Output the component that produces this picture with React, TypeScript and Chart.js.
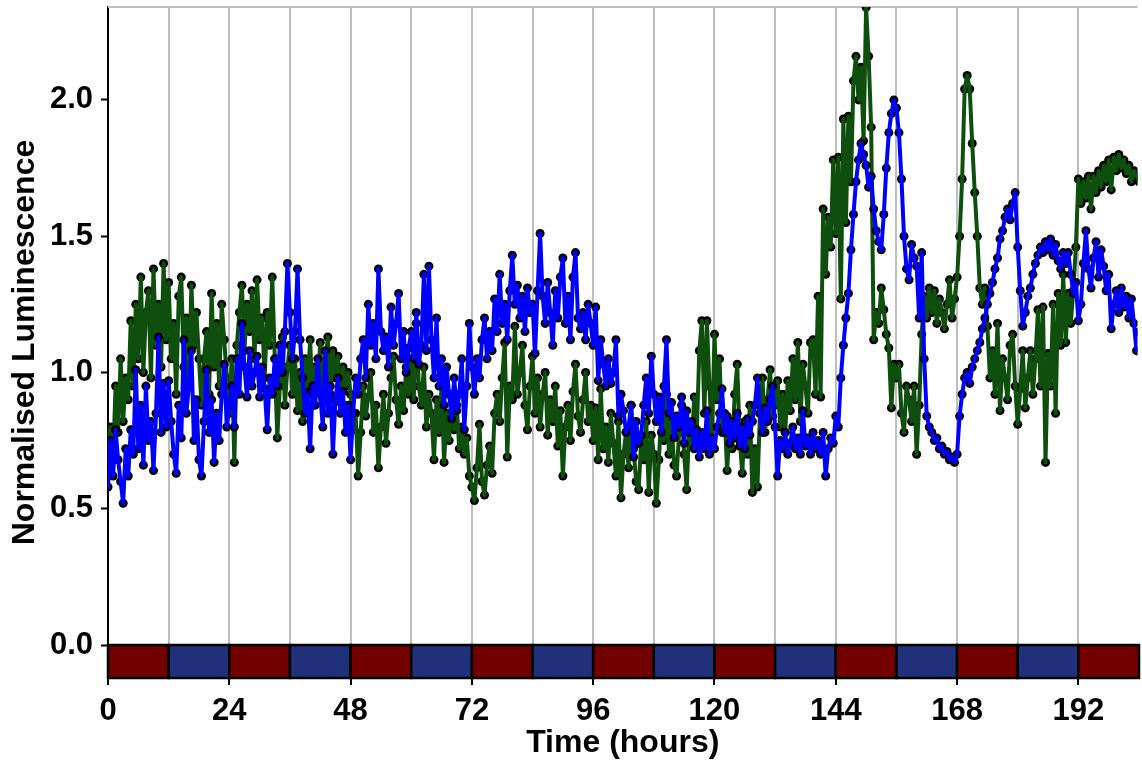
import { useEffect, useRef } from 'react';
import { Chart, registerables } from 'chart.js';

Chart.register(...registerables);

// Readings are taken every half hour, starting at t = 0 h.
const SAMPLE_STEP_H = 0.5;

// Green reporter, one row per 12 h block.
const seriesGreen = [
  0.72, 0.80, 0.68, 0.95, 0.78, 1.05, 0.82, 0.98, 0.90, 1.19, 0.95, 1.25, 1.05, 1.35, 1.00, 1.22, 1.30, 0.98, 1.38, 1.10, 1.25, 1.02, 1.40, 1.12,
  1.33, 1.05, 1.18, 0.92, 1.28, 1.35, 1.02, 1.20, 0.95, 1.32, 1.10, 1.22, 1.05, 0.88, 1.05, 1.15, 0.92, 1.29, 1.02, 1.18, 0.95, 1.25, 1.12, 0.98,
  0.85, 1.05, 0.67, 1.10, 1.22, 1.32, 1.08, 1.25, 1.15, 1.30, 1.05, 1.34, 1.12, 1.20, 0.98, 1.22, 1.10, 1.35, 1.05, 0.76, 0.95, 1.13, 0.88, 1.02,
  1.10, 0.92, 1.05, 0.86, 1.00, 0.82, 1.05, 0.95, 1.12, 0.88, 1.02, 0.96, 1.11, 0.90, 1.04, 1.13, 0.92, 1.08, 0.98, 1.06, 0.89, 1.02, 0.95, 1.00,
  0.92, 0.79, 0.85, 0.62, 0.78, 0.95, 0.84, 0.91, 1.00, 0.78, 0.88, 0.65, 0.80, 0.92, 0.74, 0.85, 0.98, 1.06, 0.90, 0.81, 0.95, 0.86, 1.02, 0.92,
  1.05, 0.90, 1.18, 0.95, 0.88, 1.02, 0.80, 0.92, 0.85, 0.68, 0.90, 0.78, 0.95, 0.67, 0.85, 0.75, 0.92, 0.79, 0.88, 0.72, 0.80, 0.70, 0.76, 0.62,
  0.58, 0.53, 0.65, 0.81, 0.60, 0.55, 0.66, 0.73, 0.63, 0.85, 0.92, 0.82, 0.98, 1.11, 0.69, 0.95, 0.90, 1.17, 0.92, 1.00, 1.10, 0.88, 0.79, 0.95,
  1.06, 0.85, 0.98, 0.80, 0.92, 1.00, 0.77, 0.90, 0.82, 0.95, 0.73, 0.86, 0.62, 0.80, 0.88, 0.75, 0.93, 1.03, 0.84, 0.78, 0.90, 1.00, 0.82, 0.88,
  0.75, 0.87, 0.68, 0.94, 0.72, 0.80, 0.67, 0.85, 0.74, 0.62, 0.82, 0.54, 0.70, 0.78, 0.65, 0.88, 0.72, 0.60, 0.57, 0.75, 0.68, 0.82, 0.56, 0.77,
  0.70, 0.52, 0.68, 0.86, 0.75, 0.92, 0.70, 0.82, 0.66, 0.62, 0.78, 0.88, 0.70, 0.57, 0.80, 0.74, 0.91, 0.78, 1.08, 1.19, 0.85, 1.19, 0.95, 0.76,
  1.14, 0.90, 1.05, 0.78, 0.85, 0.64, 0.80, 0.72, 0.92, 1.03, 0.75, 0.63, 0.82, 0.70, 0.88, 0.56, 0.72, 0.58, 0.85, 0.98, 0.78, 0.90, 1.01, 0.84,
  0.88, 0.97, 0.80, 0.92, 0.78, 0.97, 0.86, 1.05, 0.90, 1.11, 0.82, 1.03, 0.95, 0.85, 1.11, 1.12, 0.92, 1.28, 0.91, 1.60, 1.36, 1.57, 1.46, 1.78,
  1.51, 1.79, 1.27, 1.93, 1.55, 1.94, 1.70, 2.07, 2.16, 2.00, 2.12, 1.85, 2.34, 2.16, 1.90, 1.12, 1.22, 1.18, 1.31, 1.23, 1.14, 1.09, 0.87, 1.03,
  0.98, 1.03, 0.85, 0.78, 0.95, 0.90, 0.82, 0.95, 0.70, 0.88, 1.14, 1.28, 1.20, 1.31, 1.22, 1.30, 1.18, 1.27, 1.22, 1.16, 1.25, 1.34, 1.20, 1.27,
  1.35, 1.50, 1.71, 2.04, 2.09, 2.04, 1.84, 1.66, 1.50, 1.31, 1.25, 1.31, 1.17, 0.98, 1.08, 0.92, 1.18, 0.86, 1.05, 0.98, 0.90, 1.10, 1.14, 0.95,
  0.81, 0.94, 1.08, 0.87, 0.98, 1.08, 0.92, 1.05, 1.23, 0.95, 1.24, 0.67, 1.07, 0.95, 1.25, 0.85, 1.29, 1.10, 1.36, 1.11, 1.29, 1.18, 1.30, 1.46,
  1.71, 1.62, 1.70, 1.64, 1.72, 1.60, 1.72, 1.66, 1.74, 1.68, 1.76, 1.70, 1.78, 1.67, 1.79, 1.74, 1.80, 1.75, 1.78, 1.73, 1.76, 1.70, 1.74, 1.72,
  1.70, 1.73, 1.71,
];

// Blue reporter, one row per 12 h block.
const seriesBlue = [
  0.58, 0.75, 0.62, 0.79, 0.68, 0.60, 0.52, 0.72, 0.62, 0.79, 0.70, 1.01, 0.72, 0.88, 0.66, 0.95, 0.75, 0.82, 0.64, 0.85, 1.13, 0.78, 0.96, 0.80,
  0.97, 0.82, 0.70, 0.63, 0.88, 0.76, 1.12, 0.85, 0.95, 1.08, 0.75, 0.90, 0.68, 0.62, 0.82, 1.01, 0.78, 0.90, 0.67, 0.85, 0.75, 0.92, 1.03, 0.80,
  0.88, 0.95, 0.80, 1.05, 0.92, 1.18, 1.02, 0.91, 1.08, 0.95, 1.00, 1.06, 0.91, 1.02, 0.94, 0.79, 0.98, 0.92, 1.05, 0.95, 1.10, 1.00, 1.15, 1.40,
  1.22, 1.05, 1.15, 1.38, 1.12, 0.98, 0.85, 0.92, 0.72, 0.95, 0.88, 1.05, 0.92, 0.80, 1.08, 0.85, 0.95, 0.70, 0.90, 0.98, 0.85, 0.93, 0.78, 0.88,
  0.68, 0.85, 0.98, 0.92, 1.05, 1.12, 0.98, 1.25, 1.10, 1.18, 1.05, 1.38, 1.15, 1.08, 1.13, 1.02, 1.24, 1.10, 1.18, 1.29, 1.05, 1.15, 1.00, 1.09,
  1.15, 1.05, 1.22, 1.03, 1.10, 1.36, 1.08, 1.39, 1.12, 0.98, 1.20, 0.95, 1.05, 0.88, 1.02, 0.92, 0.83, 0.98, 0.86, 0.92, 1.05, 0.79, 0.95, 1.18,
  1.02, 0.92, 1.05, 0.98, 1.12, 1.20, 1.05, 1.15, 1.08, 1.27, 1.15, 1.36, 1.18, 1.25, 1.12, 1.30, 1.43, 1.25, 1.32, 1.20, 1.28, 1.15, 1.31, 1.22,
  1.25, 1.07, 1.30, 1.51, 1.28, 1.18, 1.33, 1.22, 1.10, 1.30, 1.20, 1.35, 1.42, 1.18, 1.28, 1.12, 1.35, 1.44, 1.20, 1.16, 1.22, 1.12, 1.25, 1.18,
  1.10, 1.24, 0.97, 1.12, 1.03, 0.95, 1.05, 0.96, 1.00, 1.12, 0.84, 0.92, 0.86, 0.78, 0.80, 0.88, 0.69, 0.82, 0.74, 0.77, 0.88, 0.98, 0.85, 1.06,
  0.92, 0.82, 0.91, 0.78, 0.95, 1.12, 0.85, 0.89, 0.76, 0.84, 0.80, 0.91, 0.74, 0.86, 0.78, 0.82, 0.72, 0.79, 0.69, 0.78, 0.72, 0.86, 0.70, 0.76,
  0.72, 0.80, 0.85, 0.94, 0.78, 0.84, 0.74, 0.82, 0.76, 0.85, 0.73, 0.80, 0.72, 0.83, 0.77, 0.82, 0.88, 0.98, 0.85, 0.78, 0.87, 0.82, 0.90, 0.95,
  0.80, 0.62, 0.75, 0.72, 0.78, 0.70, 0.74, 0.80, 0.72, 0.76, 0.70, 0.86, 0.73, 0.76, 0.70, 0.78, 0.72, 0.75, 0.70, 0.78, 0.62, 0.72, 0.76, 0.74,
  0.84, 0.80, 0.98, 1.10, 1.20, 1.29, 1.45, 1.58, 1.70, 1.78, 1.84, 1.80, 1.76, 1.68, 1.72, 1.60, 1.52, 1.48, 1.45, 1.58, 1.75, 1.88, 1.95, 2.00,
  1.97, 1.88, 1.71, 1.50, 1.38, 1.34, 1.47, 1.42, 1.39, 1.20, 1.44, 1.05, 0.84, 0.80, 0.78, 0.75, 0.76, 0.72, 0.73, 0.70, 0.71, 0.68, 0.69, 0.67,
  0.70, 0.84, 0.92, 0.98, 1.00, 0.96, 1.02, 1.05, 1.08, 1.11, 1.16, 1.20, 1.25, 1.29, 1.33, 1.38, 1.42, 1.49, 1.52, 1.57, 1.60, 1.56, 1.62, 1.66,
  1.46, 1.30, 1.17, 1.22, 1.28, 1.31, 1.36, 1.40, 1.43, 1.46, 1.44, 1.48, 1.45, 1.49, 1.43, 1.47, 1.41, 1.38, 1.44, 1.40, 1.44, 1.36, 1.29, 1.33,
  1.19, 1.25, 1.40, 1.52, 1.38, 1.31, 1.42, 1.48, 1.35, 1.45, 1.39, 1.30, 1.36, 1.16, 1.25, 1.30, 1.22, 1.31, 1.24, 1.28, 1.20, 1.27, 1.18, 1.08,
  1.15, 1.05, 1.00,
];

// Axis ticks and vertical guide lines (hours).
const xTickHours = [0, 24, 48, 72, 96, 120, 144, 168, 192];
const gridHours = [0, 12, 24, 36, 48, 60, 72, 84, 96, 108, 120, 132, 144, 156, 168, 180, 192];
const yTickValues = [0, 0.5, 1.0, 1.5, 2.0];

// Light regime strip: alternating 12 h blocks.
const REGIME_BLOCK_H = 12;
const regimeBlocks = [
  'red', 'blue', 'red', 'blue', 'red', 'blue', 'red', 'blue', 'red',
  'blue', 'red', 'blue', 'red', 'blue', 'red', 'blue', 'red',
];
const regimeColours: Record<string, string> = { red: '#720000', blue: '#21307b' };

const X_MAX_H = 203.7;
const Y_MIN = -0.121;
const Y_MAX = 2.341;

const GREEN = '#0f4f0d';
const BLUE = '#0000ff';
const GRID_GREY = '#bebebe';
const FONT_FAMILY = "'Liberation Sans', Arial, Helvetica, sans-serif";

const regimeStripPlugin = {
  id: 'regimeStrip',
  beforeDatasetsDraw(chart: any) {
    const { ctx, chartArea, scales } = chart;
    const xs = scales.x;
    const ys = scales.y;
    ctx.save();
    // grey frame line along the top of the panel
    ctx.strokeStyle = GRID_GREY;
    ctx.lineWidth = 2;
    ctx.beginPath();
    ctx.moveTo(chartArea.left, chartArea.top);
    ctx.lineTo(chartArea.right, chartArea.top);
    ctx.stroke();

    const yTop = ys.getPixelForValue(0);
    const yBottom = ys.getPixelForValue(Y_MIN);
    regimeBlocks.forEach((kind, i) => {
      const start = i * REGIME_BLOCK_H;
      const end = start + REGIME_BLOCK_H;
      const x0 = xs.getPixelForValue(start);
      const x1 = Math.min(xs.getPixelForValue(end), chartArea.right + 2);
      ctx.fillStyle = regimeColours[kind];
      ctx.fillRect(x0, yTop, x1 - x0, yBottom - yTop);
      ctx.strokeStyle = '#000';
      ctx.lineWidth = 2.5;
      ctx.strokeRect(x0, yTop, x1 - x0, yBottom - yTop);
    });
    ctx.restore();
  },
};

export default function App() {
  const canvasRef = useRef<HTMLCanvasElement>(null);

  useEffect(() => {
    document.body.style.margin = '0';
    const canvas = canvasRef.current;
    if (!canvas) return;

    const greenPoints = seriesGreen.map((y, i) => ({ x: i * SAMPLE_STEP_H, y }));
    const bluePoints = seriesBlue.map((y, i) => ({ x: i * SAMPLE_STEP_H, y }));

    const tickFont = { family: FONT_FAMILY, size: 31, weight: 'bold' as const };
    const titleFont = { family: FONT_FAMILY, size: 32, weight: 'bold' as const };

    const markerStyle = {
      showLine: false,
      pointRadius: 4.5,
      pointBackgroundColor: '#000',
      pointBorderWidth: 0,
    };
    const lineStyle = {
      borderWidth: 4,
      borderJoinStyle: 'round' as const,
      borderCapStyle: 'round' as const,
      pointRadius: 0,
      tension: 0,
    };

    const chart = new Chart(canvas, {
      type: 'line',
      data: {
        datasets: [
          { label: 'green markers', data: greenPoints, ...markerStyle, order: 4 },
          { label: 'green', data: greenPoints, borderColor: GREEN, ...lineStyle, order: 3 },
          { label: 'blue markers', data: bluePoints, ...markerStyle, order: 2 },
          { label: 'blue', data: bluePoints, borderColor: BLUE, ...lineStyle, order: 1 },
        ],
      },
      options: {
        responsive: false,
        animation: false,
        devicePixelRatio: 1,
        layout: { padding: { top: 7, left: 0, right: 0, bottom: 0 } },
        plugins: {
          legend: { display: false },
          tooltip: { enabled: false },
        },
        scales: {
          x: {
            type: 'linear',
            min: 0,
            max: X_MAX_H,
            afterBuildTicks: (s: any) => {
              s.ticks = gridHours.map((v) => ({ value: v }));
            },
            afterFit: (s: any) => {
              s.height = 89;
              s.paddingLeft = 0;
              s.paddingRight = 0;
            },
            ticks: {
              autoSkip: false,
              maxRotation: 0,
              padding: 8,
              color: '#000',
              font: tickFont,
              callback: (v: any) => (xTickHours.includes(Number(v)) ? String(v) : ''),
            },
            grid: {
              color: GRID_GREY,
              lineWidth: 2,
              tickLength: 7,
              tickWidth: 2,
              tickColor: (c: any) =>
                c.tick && xTickHours.includes(c.tick.value) ? '#000' : 'rgba(0,0,0,0)',
            },
            border: { color: '#000', width: 2 },
            title: {
              display: true,
              text: 'Time (hours)',
              color: '#000',
              font: titleFont,
              padding: { top: 0, bottom: 5 },
            },
          },
          y: {
            type: 'linear',
            min: Y_MIN,
            max: Y_MAX,
            afterBuildTicks: (s: any) => {
              s.ticks = yTickValues.map((v) => ({ value: v }));
            },
            afterFit: (s: any) => {
              s.width = 108;
              s.paddingTop = 0;
              s.paddingBottom = 0;
            },
            ticks: {
              padding: 8,
              color: '#000',
              font: tickFont,
              callback: (v: any) => Number(v).toFixed(1),
            },
            grid: {
              drawOnChartArea: false,
              tickLength: 7,
              tickWidth: 2,
              tickColor: '#000',
            },
            border: { color: '#000', width: 2 },
            title: {
              display: true,
              text: 'Normalised Luminescence',
              color: '#000',
              font: titleFont,
              padding: { top: 6, bottom: 0 },
            },
          },
        },
      },
      plugins: [regimeStripPlugin],
    });

    return () => chart.destroy();
  }, []);

  return (
    <div style={{ width: 1142, height: 767 }}>
      <canvas ref={canvasRef} width={1142} height={767} style={{ display: 'block' }} />
    </div>
  );
}
